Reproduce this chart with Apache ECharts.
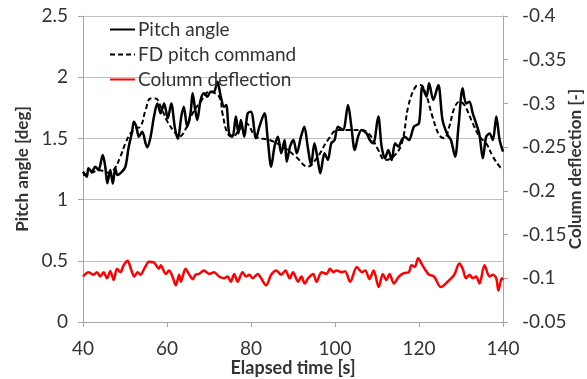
<!DOCTYPE html>
<html>
<head>
<meta charset="utf-8">
<script src="https://cdn.jsdelivr.net/npm/echarts@6/dist/echarts.min.js"></script>
<style>
html,body{margin:0;padding:0;background:#fff;}
#chart{width:587px;height:379px;}
</style>
</head>
<body>
<div id="chart"></div>
<script>
// Pitch angle [deg] (solid black)
const pitchTime = [40.0,40.9,41.3,42.1,42.9,43.7,44.7,45.3,45.8,46.5,47.1,47.7,48.2,49.3,50.1,50.9,51.7,52.1,52.7,53.3,54.1,54.9,55.3,56.1,56.9,57.7,58.5,59.3,60.2,61.0,61.9,62.6,63.4,64.0,64.8,
  65.6,66.1,66.6,67.2,68.0,68.8,69.6,70.4,71.2,72.0,72.8,73.6,74.1,74.8,75.6,76.4,77.0,77.6,78.4,79.2,80.0,81.2,82.0,83.2,84.0,84.8,85.6,86.4,87.2,88.0,88.5,89.3,90.1,90.9,
  91.9,92.7,93.5,94.3,95.1,95.9,96.5,97.5,98.3,99.1,99.9,100.7,101.9,103.1,103.9,104.7,105.5,106.3,107.5,108.3,109.1,110.3,111.1,111.9,112.7,113.5,114.3,115.1,115.9,116.6,
  117.6,118.8,120.0,120.8,121.8,122.4,123.4,124.6,125.6,126.8,127.6,128.6,129.4,130.4,131.2,132.0,132.8,133.6,134.4,135.2,136.0,136.8,137.6,138.4,139.2,140.0];
const pitchAngle = [1.228,1.187,1.256,1.228,1.269,1.242,1.365,1.269,1.133,1.242,1.130,1.256,1.201,1.228,1.269,1.433,1.555,1.637,1.596,1.514,1.555,1.460,1.427,1.514,1.678,1.786,1.705,1.786,1.664,1.786,1.582,1.495,1.678,1.759,1.596,
  1.705,1.868,1.759,1.650,1.814,1.868,1.841,1.882,1.882,1.963,1.841,1.759,1.773,1.541,1.514,1.678,1.541,1.650,1.514,1.705,1.718,1.501,1.596,1.705,1.487,1.269,1.433,1.514,1.378,1.487,1.310,1.433,1.487,1.378,
  1.514,1.596,1.433,1.283,1.460,1.324,1.215,1.378,1.324,1.460,1.487,1.596,1.569,1.773,1.596,1.405,1.514,1.569,1.541,1.487,1.460,1.678,1.433,1.337,1.405,1.324,1.460,1.433,1.487,1.514,
  1.487,1.596,1.623,1.923,1.841,1.950,1.814,1.936,1.650,1.528,1.487,1.351,1.596,1.909,1.786,1.800,1.705,1.623,1.528,1.337,1.514,1.541,1.487,1.678,1.487,1.392];

// FD pitch command [deg] (dashed black)
const cmdTime = [40,42,44,46,47.3,48.9,50.1,51.3,52.5,53.7,54.9,56.1,57.3,58.5,60.1,61.7,62.9,64.5,66,68,70,72.4,73.2,74.4,75.6,77.2,78.8,81.2,84.4,87.6,90.7,93.5,95.9,98.3,100.7,103.1,106.3,108.3,110.3,111.9,113.9,115.9,117.5,119.2,120.4,121.6,123.2,124.8,126.0,127.2,128.4,129.6,130.8,132.8,134.4,136.0,137.6,139.2,140.0];
const cmdAngle = [1.20,1.22,1.24,1.22,1.242,1.351,1.460,1.541,1.582,1.596,1.732,1.827,1.827,1.759,1.637,1.555,1.514,1.58,1.70,1.80,1.88,1.841,1.705,1.541,1.514,1.569,1.623,1.514,1.487,1.433,1.351,1.269,1.351,1.487,1.569,1.569,1.569,1.528,1.405,1.324,1.351,1.460,1.77,1.923,1.936,1.868,1.678,1.528,1.501,1.596,1.746,1.800,1.773,1.623,1.514,1.460,1.351,1.269,1.242];

// Column deflection [-] (red, right axis)
const colTime = [40.0,41.3,42.5,43.3,44.1,44.9,45.7,46.5,47.3,48.1,48.9,49.7,50.6,51.4,52.2,53.0,53.7,54.6,55.7,56.9,58.1,58.5,59.7,60.5,61.3,62.1,62.9,63.3,64.4,65.2,66.1,66.8,67.6,68.8,70.0,71.2,72.4,73.6,74.4,75.2,76.0,76.8,78.0,78.8,79.6,80.4,81.6,82.4,83.6,84.8,86.0,87.2,88.2,89.2,90.0,91.2,92.0,92.8,93.6,94.8,95.6,96.8,98.0,98.8,99.6,100.4,101.6,102.4,103.6,105.2,106.4,107.2,108.2,109.2,110.4,111.4,112.2,113.0,114.0,115.2,116.4,117.6,118.2,119.0,119.8,120.8,121.6,122.4,123.6,125.2,126.8,128.4,129.6,130.4,131.2,132.0,132.8,133.6,134.4,135.6,136.8,137.6,138.4,138.9,139.7,140.0];
const colDeflection = [-0.102,-0.107,-0.104,-0.107,-0.102,-0.107,-0.100,-0.108,-0.098,-0.111,-0.107,-0.115,-0.120,-0.111,-0.102,-0.107,-0.104,-0.111,-0.119,-0.118,-0.111,-0.115,-0.105,-0.109,-0.102,-0.092,-0.104,-0.096,-0.111,-0.105,-0.099,-0.104,-0.105,-0.109,-0.105,-0.107,-0.102,-0.100,-0.102,-0.096,-0.105,-0.096,-0.107,-0.102,-0.104,-0.100,-0.105,-0.100,-0.092,-0.104,-0.109,-0.104,-0.109,-0.100,-0.107,-0.096,-0.102,-0.094,-0.100,-0.105,-0.096,-0.107,-0.105,-0.111,-0.107,-0.109,-0.107,-0.108,-0.096,-0.113,-0.107,-0.109,-0.099,-0.109,-0.090,-0.105,-0.098,-0.105,-0.094,-0.102,-0.106,-0.107,-0.115,-0.113,-0.123,-0.115,-0.109,-0.104,-0.102,-0.090,-0.096,-0.104,-0.117,-0.111,-0.100,-0.104,-0.100,-0.102,-0.094,-0.115,-0.102,-0.104,-0.100,-0.086,-0.100,-0.098];

const seriesNames = ['Pitch angle','FD pitch command','Column deflection'];
const xTitle = 'Elapsed time [s]';
const yLeftTitle = 'Pitch angle [deg]';
const yRightTitle = 'Column deflection [-]';

function pairs(xs, ys){ return xs.map((x,i)=>[x, ys[i]]); }

const FONT = 'Lato';
const TXT = '#333333';
const chart = echarts.init(document.getElementById('chart'), null, {renderer:'canvas'});
chart.setOption({
  animation: false,
  backgroundColor: '#ffffff',
  textStyle: {fontFamily: FONT},
  grid: {left: 83, right: 84, top: 16, bottom: 57, containLabel: false, outerBoundsMode: 'none'},
  legend: {
    orient: 'vertical', left: 104, top: 15,
    itemWidth: 25, itemHeight: 14, itemGap: 6,
    itemStyle: {opacity: 0},
    textStyle: {fontFamily: FONT, fontSize: 19, color: TXT, padding: [0, 0, 0, -2]},
    data: seriesNames
  },
  xAxis: {
    type: 'value', min: 40, max: 140, interval: 20,
    name: xTitle, nameLocation: 'middle', nameGap: 37, nameMoveOverlap: false,
    nameTextStyle: {fontFamily: FONT, fontSize: 18, fontWeight: 'bold', color: TXT},
    axisLine: {lineStyle: {color: '#a6a6a6', width: 1}},
    axisTick: {show: true, length: 5, lineStyle: {color: '#a6a6a6'}},
    axisLabel: {fontFamily: FONT, fontSize: 19, color: TXT, margin: 17},
    splitLine: {show: false}
  },
  yAxis: [{
    type: 'value', min: 0, max: 2.5, interval: 0.5,
    name: yLeftTitle, nameLocation: 'middle', nameGap: 52, nameRotate: 90, nameMoveOverlap: false,
    nameTextStyle: {fontFamily: FONT, fontSize: 17, fontWeight: 'bold', color: TXT},
    axisLine: {show: true, lineStyle: {color: '#a6a6a6', width: 1}},
    axisTick: {show: true, length: 5, lineStyle: {color: '#a6a6a6'}},
    axisLabel: {fontFamily: FONT, fontSize: 19, color: TXT, margin: 15},
    splitLine: {show: true, lineStyle: {color: '#bfbfbf', width: 1}}
  },{
    type: 'value', min: -0.4, max: -0.05, interval: 0.05, inverse: true, position: 'right',
    name: yRightTitle, nameLocation: 'middle', nameGap: 64, nameRotate: 90, nameMoveOverlap: false,
    nameTextStyle: {fontFamily: FONT, fontSize: 17, fontWeight: 'bold', color: TXT},
    axisLine: {show: true, lineStyle: {color: '#a6a6a6', width: 1}},
    axisTick: {show: true, length: 5, lineStyle: {color: '#a6a6a6'}},
    axisLabel: {fontFamily: FONT, fontSize: 19, color: TXT, margin: 19},
    splitLine: {show: false}
  }],
  series: [{
    name: seriesNames[0], type: 'line', yAxisIndex: 0,
    data: pairs(pitchTime, pitchAngle), showSymbol: false, symbol: 'none', smooth: 0.3,
    lineStyle: {color: '#000000', width: 2.5}, itemStyle: {color: '#000000'}, z: 3
  },{
    name: seriesNames[1], type: 'line', yAxisIndex: 0,
    data: pairs(cmdTime, cmdAngle), showSymbol: false, symbol: 'none', smooth: 0.4,
    lineStyle: {color: '#000000', width: 2, type: [5, 3]}, itemStyle: {color: '#000000'}, z: 2
  },{
    name: seriesNames[2], type: 'line', yAxisIndex: 1,
    data: pairs(colTime, colDeflection), showSymbol: false, symbol: 'none', smooth: 0.3,
    lineStyle: {color: '#ff0000', width: 2.5}, itemStyle: {color: '#ff0000'}, z: 2
  }]
});
</script>
</body>
</html>
